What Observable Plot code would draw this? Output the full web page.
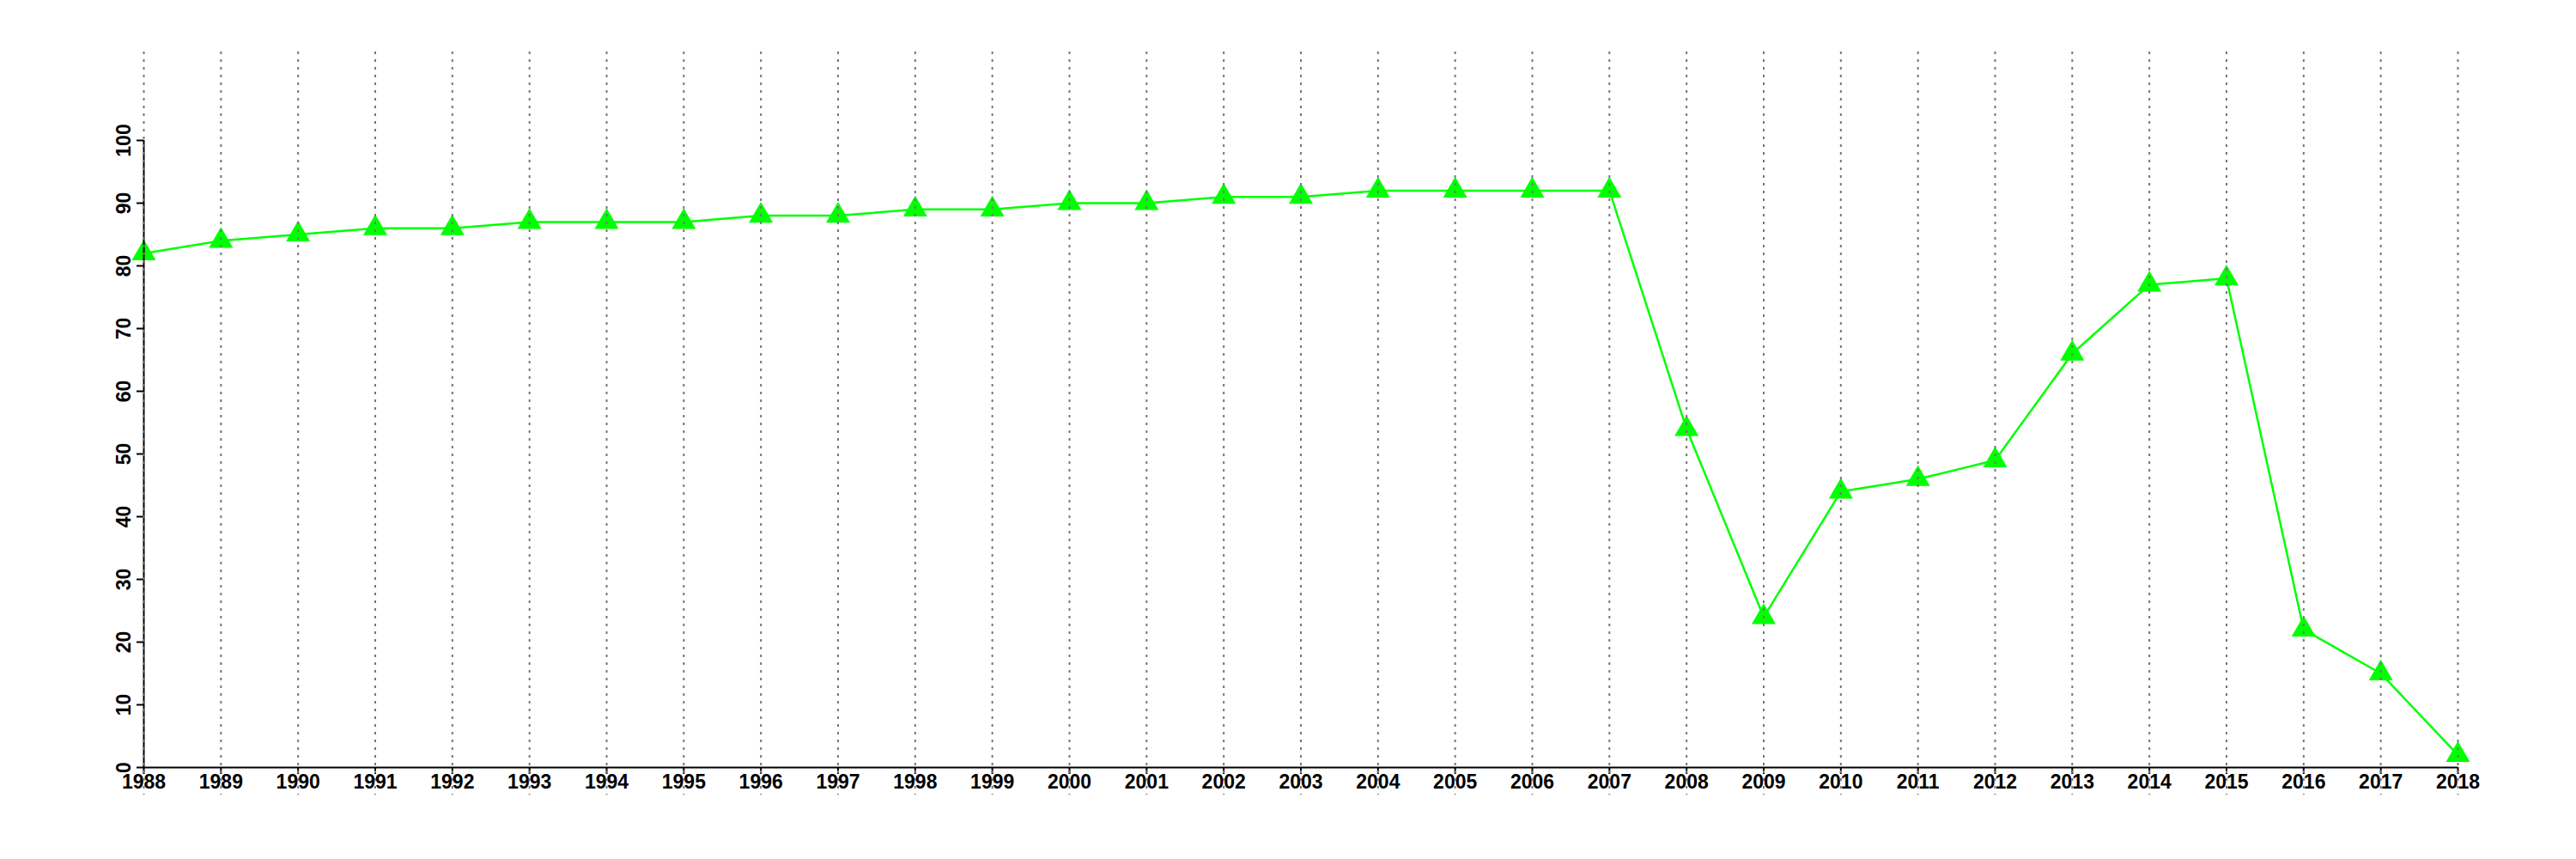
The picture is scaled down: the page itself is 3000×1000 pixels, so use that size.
<!DOCTYPE html>
<html>
<head>
<meta charset="utf-8">
<script src="https://cdn.jsdelivr.net/npm/d3@7"></script>
<script src="https://cdn.jsdelivr.net/npm/@observablehq/plot@0.6"></script>
<style>
  html, body { margin: 0; padding: 0; background: #ffffff; }
  #chart svg { display: block; }
</style>
</head>
<body>
<div id="chart"></div>
<script>
const years = [1988, 1989, 1990, 1991, 1992, 1993, 1994, 1995, 1996, 1997, 1998, 1999, 2000, 2001, 2002, 2003, 2004, 2005, 2006, 2007, 2008, 2009, 2010, 2011, 2012, 2013, 2014, 2015, 2016, 2017, 2018];
const values = [82, 84, 85, 86, 86, 87, 87, 87, 88, 88, 89, 89, 90, 90, 91, 91, 92, 92, 92, 92, 54, 24, 44, 46, 49, 66, 77, 78, 22, 15, 2];
const yTicks = [0, 10, 20, 30, 40, 50, 60, 70, 80, 90, 100];

const data = years.map((year, i) => ({year, value: values[i]}));

const chart = Plot.plot({
  width: 3000,
  height: 1000,
  marginLeft: 167,
  marginRight: 138,
  marginTop: 163,
  marginBottom: 107,
  style: {fontFamily: "'Liberation Sans', Arial, sans-serif", fontSize: "23px", fontWeight: "bold", background: "#ffffff"},
  x: {type: "linear", domain: [years[0], years[years.length - 1]]},
  y: {domain: [0, 100]},
  marks: [
    Plot.line(data, {x: "year", y: "value", stroke: "#00ff00", strokeWidth: 2.5}),
    Plot.dot(data, {x: "year", y: "value", symbol: "triangle", r: 10.4, fill: "#00ff00", stroke: "none"}),
    Plot.ruleY([0], {x1: years[0], x2: years[years.length - 1], stroke: "#000", strokeWidth: 2}),
    Plot.ruleX([years[0]], {y1: yTicks[0], y2: yTicks[yTicks.length - 1], stroke: "#000", strokeWidth: 2}),
    Plot.axisX({ticks: years, tickFormat: d => String(d), tickSize: 8, tickPadding: 0, stroke: "#000", strokeWidth: 2, fill: "#000", label: null}),
    Plot.axisY({ticks: yTicks, tickFormat: d => String(d), tickSize: 8, tickPadding: 8, tickRotate: -90, stroke: "#000", strokeWidth: 2, fill: "#000", label: null}),
    Plot.ruleX(years, {x: d => d, stroke: "#777777", strokeWidth: 2, strokeDasharray: "3,6", insetTop: -103, insetBottom: -32})
  ]
});
document.getElementById("chart").appendChild(chart);
</script>
</body>
</html>
